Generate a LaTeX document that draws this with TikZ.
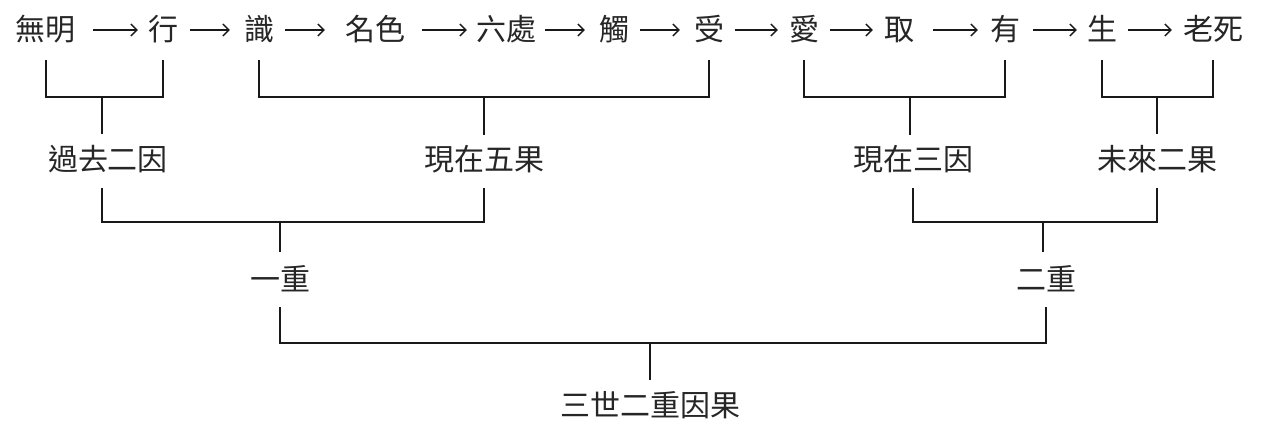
\documentclass[tikz,border=0pt]{standalone}
\usepackage{fontspec}
\setmainfont{Noto Sans CJK TC}
\usetikzlibrary{arrows.meta}
\begin{document}
\begin{tikzpicture}[x=1pt,y=-1pt,
  lbl/.style={font=\fontsize{30pt}{30pt}\selectfont, text=black!85, inner sep=0pt, text height=24pt, text depth=2.4pt},
  ln/.style={line width=1.3pt, draw=black!90},
  arr/.style={line width=1.3pt, draw=black!90, -{Straight Barb[length=6pt,width=12pt]}}]
\useasboundingbox[fill=white] (0,0) rectangle (1262,436);
% top row
\node[lbl] (wm) at (46,30) {無明};
\node[lbl] (xing) at (163,30) {行};
\node[lbl] (shi) at (259,30) {識};
\node[lbl] (ms) at (375,30) {名色};
\node[lbl] (lc) at (506,30) {六處};
\node[lbl] (chu) at (614,30) {觸};
\node[lbl] (shou) at (709,30) {受};
\node[lbl] (ai) at (804,30) {愛};
\node[lbl] (qu) at (899,30) {取};
\node[lbl] (you) at (1005,30) {有};
\node[lbl] (sheng) at (1102,30) {生};
\node[lbl] (ls) at (1213,30) {老死};
% arrows
\draw[arr, shorten <=17pt, shorten >=10pt] (wm.east) -- (xing.west);
\draw[arr, shorten <=12pt, shorten >=14pt] (xing.east) -- (shi.west);
\draw[arr, shorten <=11pt, shorten >=20pt] (shi.east) -- (ms.west);
\draw[arr, shorten <=17pt, shorten >=9pt] (ms.east) -- (lc.west);
\draw[arr, shorten <=9pt, shorten >=14pt] (lc.east) -- (chu.west);
\draw[arr, shorten <=11pt, shorten >=14pt] (chu.east) -- (shou.west);
\draw[arr, shorten <=11pt, shorten >=11pt] (shou.east) -- (ai.west);
\draw[arr, shorten <=11pt, shorten >=11pt] (ai.east) -- (qu.west);
\draw[arr, shorten <=19pt, shorten >=12pt] (qu.east) -- (you.west);
\draw[arr, shorten <=13pt, shorten >=10pt] (you.east) -- (sheng.west);
\draw[arr, shorten <=11pt, shorten >=11pt] (sheng.east) -- (ls.west);
% second row labels
\node[lbl] (gq) at (108,160) {過去二因};
\node[lbl] (xw) at (484,160) {現在五果};
\node[lbl] (xs) at (913,160) {現在三因};
\node[lbl] (wl) at (1157,160) {未來二果};
\node[lbl] (y1) at (280,280) {一重};
\node[lbl] (e2) at (1046,280) {二重};
\node[lbl] (ss) at (650,406) {三世二重因果};
\coordinate (b1) at (0,97);
\coordinate (b2) at (0,222);
\coordinate (b3) at (0,343);
% first-level brackets
\draw[ln] ([yshift=-17pt]wm.south) -- (wm.south |- b1) -- (xing.south |- b1) -- ([yshift=-17pt]xing.south);
\draw[ln] ([xshift=-6pt]gq.north |- b1) -- ([xshift=-6pt,yshift=13pt]gq.north);
\draw[ln] ([yshift=-17pt]shi.south) -- (shi.south |- b1) -- (shou.south |- b1) -- ([yshift=-17pt]shou.south);
\draw[ln] (xw.north |- b1) -- ([yshift=12pt]xw.north);
\draw[ln] ([yshift=-17pt]ai.south) -- (ai.south |- b1) -- (you.south |- b1) -- ([yshift=-17pt]you.south);
\draw[ln] ([xshift=-3pt]xs.north |- b1) -- ([xshift=-3pt,yshift=12pt]xs.north);
\draw[ln] ([yshift=-17pt]sheng.south) -- (sheng.south |- b1) -- (ls.south |- b1) -- ([yshift=-17pt]ls.south);
\draw[ln] (wl.north |- b1) -- ([yshift=13pt]wl.north);
% second-level brackets
\draw[ln] ([xshift=-6pt,yshift=-15pt]gq.south) -- ([xshift=-6pt]gq.south |- b2) -- (xw.south |- b2) -- ([yshift=-15pt]xw.south);
\draw[ln] (y1.north |- b2) -- ([yshift=15pt]y1.north);
\draw[ln] ([yshift=-15pt]xs.south) -- (xs.south |- b2) -- (wl.south |- b2) -- ([yshift=-15pt]wl.south);
\draw[ln] ([xshift=-3pt]e2.north |- b2) -- ([xshift=-3pt,yshift=15pt]e2.north);
% third-level bracket
\draw[ln] ([yshift=-14pt]y1.south) -- (y1.south |- b3) -- (e2.south |- b3) -- ([yshift=-14pt]e2.south);
\draw[ln] (ss.north |- b3) -- ([yshift=13pt]ss.north);
\end{tikzpicture}
\end{document}
